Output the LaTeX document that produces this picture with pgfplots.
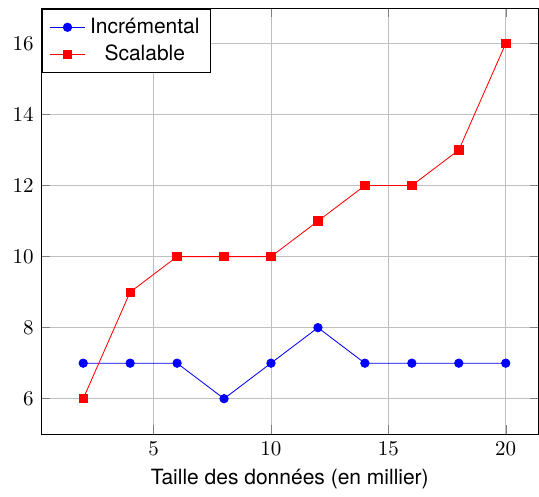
\documentclass[border=0pt]{standalone}
\usepackage{pgfplots}
\pgfplotsset{compat=1.18}
\usepackage{fontspec}
\setmainfont{TeX Gyre Heros}
\begin{document}
\begin{tikzpicture}
  \begin{axis}[
    scale only axis,
    width=237pt,
    height=203pt,
    xmin=0.2, xmax=21.4,
    ymin=5, ymax=17,
    xtick={5,10,15,20},
    ytick={6,8,10,12,14,16},
    grid=major,
    xlabel={Taille des données (en millier)},
    legend cell align=center,
    legend style={at={(0.003,0.997)}, anchor=north west},
  ]
    \addplot[color=blue, mark=*] coordinates {
      (2,7) (4,7) (6,7) (8,6) (10,7) (12,8) (14,7) (16,7) (18,7) (20,7)
    };
    \addlegendentry{Incrémental}
    \addplot[color=red, mark=square*] coordinates {
      (2,6) (4,9) (6,10) (8,10) (10,10) (12,11) (14,12) (16,12) (18,13) (20,16)
    };
    \addlegendentry{Scalable}
  \end{axis}
  % marge autour de la figure
  \path ([xshift=-19.5pt, yshift=3.8pt]current axis.north west);
  \path ([yshift=-28pt]current axis.south west);
\end{tikzpicture}
\end{document}
